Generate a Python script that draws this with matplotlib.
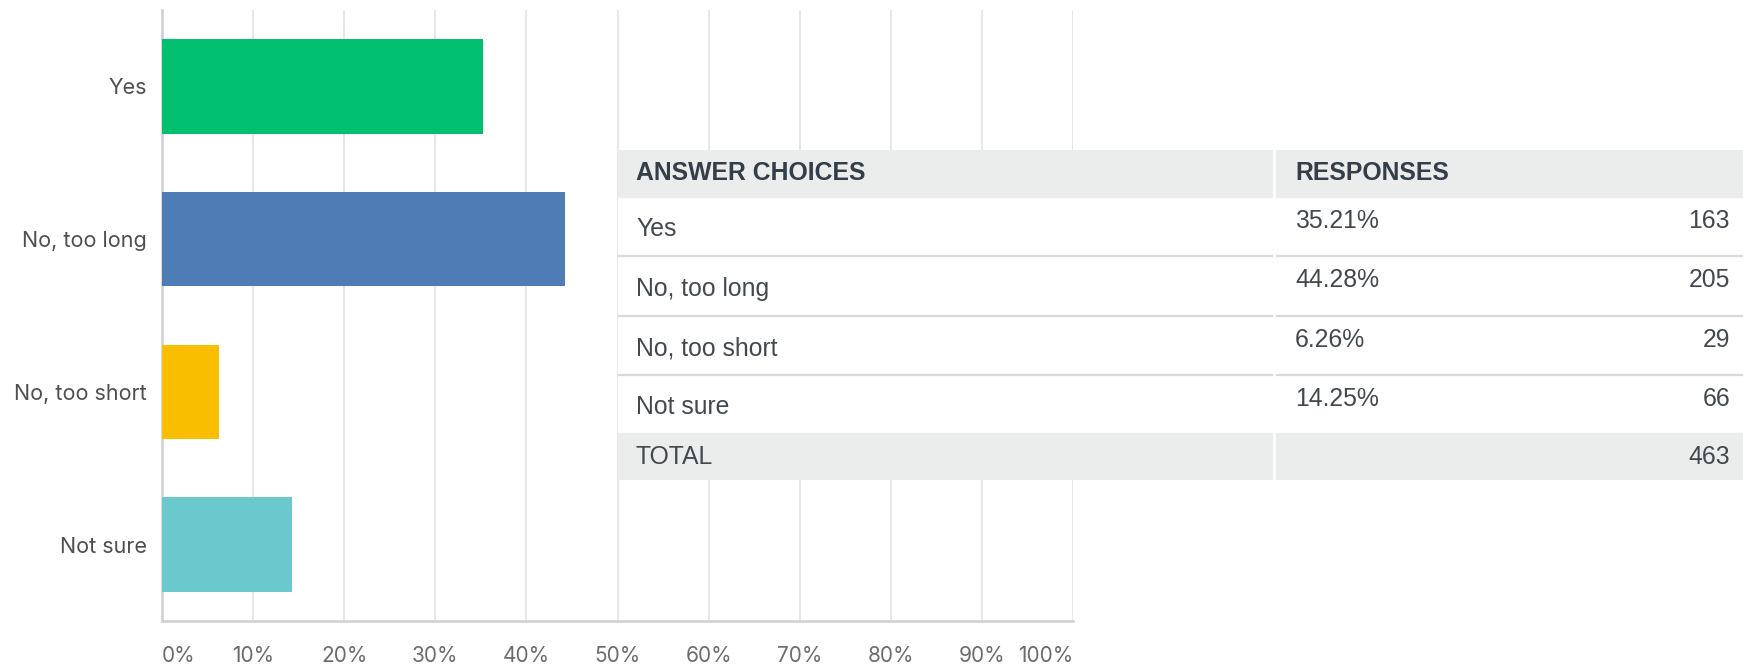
import matplotlib
matplotlib.use("Agg")
import matplotlib.pyplot as plt
from matplotlib.patches import Rectangle

categories = ["Yes", "No, too long", "No, too short", "Not sure"]
percents = [35.21, 44.28, 6.26, 14.25]
counts = [163, 205, 29, 66]
total = 463
xticks = [0, 10, 20, 30, 40, 50, 60, 70, 80, 90, 100]
xtick_labels = ["0%", "10%", "20%", "30%", "40%", "50%", "60%", "70%", "80%", "90%", "100%"]
colors = ["#00BF6F", "#507CB6", "#F9BE00", "#6BC8CD"]
header = ["ANSWER CHOICES", "RESPONSES"]

W, H = 1743, 664
fig = plt.figure(figsize=(W / 100, H / 100), dpi=100)
fig.patch.set_facecolor("white")

def fx(px):
    return px / W

def fy(py):
    return 1 - py / H

ax_l, ax_r, ax_t, ax_b = 162, 1073, 10, 621
ax = fig.add_axes([fx(ax_l), fy(ax_b), fx(ax_r - ax_l), (ax_b - ax_t) / H])
ypos = list(range(len(categories)))
ax.barh(ypos, percents, height=0.62, color=colors, zorder=3)
ax.set_xlim(0, 100)
ax.set_ylim(len(categories) - 0.5, -0.5)
ax.set_xticks(xticks)
ax.set_xticklabels(xtick_labels)
ax.set_yticks(ypos)
ax.set_yticklabels(categories)
ax.tick_params(axis="both", length=0)
ax.tick_params(axis="x", pad=18, labelsize=15, labelcolor="#6b6b6b")
ax.tick_params(axis="y", pad=11, labelsize=15.5, labelcolor="#4f4f4f")
for lab in ax.get_xticklabels() + ax.get_yticklabels():
    lab.set_fontfamily(["Inter", "DejaVu Sans"])
xl = ax.get_xticklabels()
xl[0].set_horizontalalignment("left")
xl[-1].set_horizontalalignment("right")
ax.grid(axis="x", color="#e5e5e5", linewidth=1.3, zorder=0)
ax.set_axisbelow(True)
for s in ["top", "right"]:
    ax.spines[s].set_visible(False)
for s in ["left", "bottom"]:
    ax.spines[s].set_color("#cfcfcf")
    ax.spines[s].set_linewidth(1.8)

# Table
tl, tr, tt, tb = 618, 1743, 150, 480
tax = fig.add_axes([fx(tl), fy(tb), fx(tr - tl), (tb - tt) / H])
tax.set_xlim(tl, tr)
tax.set_ylim(tb, tt)
tax.axis("off")
col_sep = 1274
row_edges = [150, 197, 256, 316, 375, 433, 480]
hdr_bg = "#EBECEC"
txt_col = "#333E48"
body_col = "#42484e"
tfont = ["Liberation Sans", "DejaVu Sans"]
fs = 17.8

tax.add_patch(Rectangle((tl, tt), tr - tl, tb - tt, color="white", zorder=1))
tax.add_patch(Rectangle((tl, row_edges[0]), tr - tl, row_edges[1] - row_edges[0], color=hdr_bg, zorder=2))
tax.add_patch(Rectangle((tl, row_edges[-2]), tr - tl, row_edges[-1] - row_edges[-2], color=hdr_bg, zorder=2))
for y in row_edges[2:-2]:
    tax.plot([tl, tr], [y, y], color="#d9d9d9", linewidth=1.6, zorder=3, solid_capstyle="butt")
tax.plot([col_sep, col_sep], [tt, tb], color="white", linewidth=2.0, zorder=4)

tx1, tx2, tx3 = 636, 1295, 1730
ymid = lambda i: (row_edges[i] + row_edges[i + 1]) / 2
tax.text(tx1, ymid(0), header[0], ha="left", va="center", fontsize=fs, fontweight="bold",
         color=txt_col, family=tfont, zorder=5)
tax.text(tx2, ymid(0), header[1], ha="left", va="center", fontsize=fs, fontweight="bold",
         color=txt_col, family=tfont, zorder=5)
for i, (c, p, n) in enumerate(zip(categories, percents, counts)):
    r = i + 1
    tax.text(tx1, ymid(r) + 3, c, ha="left", va="center", fontsize=fs, color=body_col,
             family=tfont, zorder=5)
    top_y = row_edges[r] + 24
    tax.text(tx2, top_y, f"{p:.2f}%", ha="left", va="center", fontsize=fs, color=body_col,
             family=tfont, zorder=5)
    tax.text(tx3, top_y, f"{n}", ha="right", va="center", fontsize=fs, color=body_col,
             family=tfont, zorder=5)
tax.text(tx1, ymid(5), "TOTAL", ha="left", va="center", fontsize=fs, color=body_col,
         family=tfont, zorder=5)
tax.text(tx3, ymid(5), f"{total}", ha="right", va="center", fontsize=fs, color=body_col,
         family=tfont, zorder=5)

fig.savefig("out.png", dpi=100, facecolor="white")
